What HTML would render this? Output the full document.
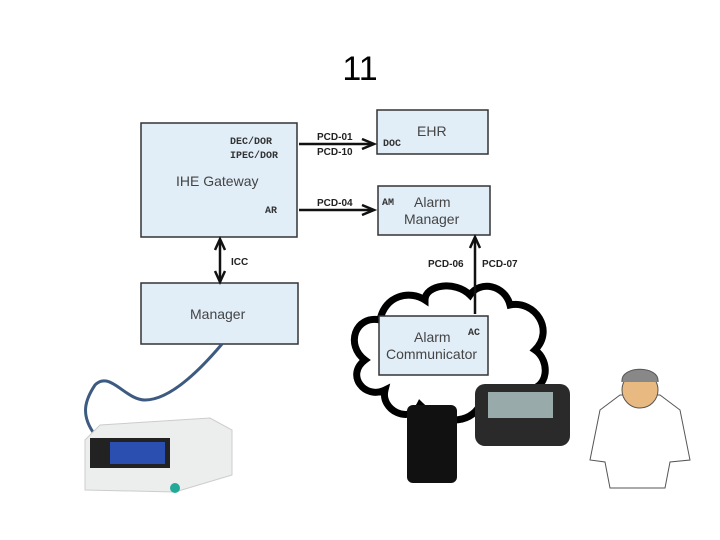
<!DOCTYPE html>
<html><head><style>
html,body{margin:0;padding:0;background:#fff;}
svg{display:block;font-family:"Liberation Sans",sans-serif;}
.m{font-family:"Liberation Mono",monospace;font-weight:bold;font-size:10px;fill:#333}
.b{font-weight:bold;font-size:10px;fill:#222}
.l{font-size:14px;fill:#444}
</style></head><body>
<svg width="720" height="540" viewBox="0 0 720 540">
<text x="360" y="80" text-anchor="middle" font-size="34" fill="#000">11</text>
<!-- cloud -->
<path d="M380,320 C355,315 345,345 365,360 C345,375 365,400 385,390 C380,410 410,425 420,405 C440,425 470,425 480,405 C500,420 530,410 525,390 C550,390 550,360 535,350 C555,330 535,300 510,305 C505,285 480,280 470,295 C455,280 425,285 425,300 C410,290 385,295 380,320 Z" fill="#fff" stroke="#000" stroke-width="7"/>
<!-- boxes -->
<g fill="#e1eef8" stroke="#333" stroke-width="1.5">
<rect x="141" y="123" width="156" height="114"/>
<rect x="377" y="110" width="111" height="44"/>
<rect x="378" y="186" width="112" height="49"/>
<rect x="141" y="283" width="157" height="61"/>
<rect x="379" y="316" width="109" height="59"/>
</g>
<text class="m" x="230" y="144">DEC/DOR</text>
<text class="m" x="230" y="158">IPEC/DOR</text>
<text class="l" x="176" y="186">IHE Gateway</text>
<text class="m" x="265" y="213">AR</text>
<text class="l" x="417" y="136">EHR</text>
<text class="m" x="383" y="146">DOC</text>
<text class="m" x="382" y="205">AM</text>
<text class="l" x="414" y="207">Alarm</text>
<text class="l" x="404" y="224">Manager</text>
<text class="l" x="190" y="319">Manager</text>
<text class="l" x="414" y="342">Alarm</text>
<text class="l" x="386" y="359">Communicator</text>
<text class="m" x="468" y="335">AC</text>
<!-- connectors -->
<g stroke="#111" stroke-width="2.5" fill="none">
<line x1="299" y1="144" x2="373" y2="144"/><polyline points="362,139 374,144 362,149"/>
<line x1="299" y1="210" x2="373" y2="210"/><polyline points="362,205 374,210 362,215"/>
<line x1="220" y1="240" x2="220" y2="281"/><polyline points="215,250 220,239 225,250"/><polyline points="215,271 220,282 225,271"/>
<line x1="475" y1="238" x2="475" y2="314"/><polyline points="470,248 475,237 480,248"/>
</g>
<text class="b" x="317" y="140">PCD-01</text>
<text class="b" x="317" y="155">PCD-10</text>
<text class="b" x="317" y="206">PCD-04</text>
<text class="b" x="231" y="265">ICC</text>
<text class="b" x="428" y="267">PCD-06</text>
<text class="b" x="482" y="267">PCD-07</text>
<!-- cable -->
<path d="M222,344 C200,370 170,400 145,400 C125,400 110,370 95,385 C85,400 80,415 95,435" stroke="#3d5a80" stroke-width="3" fill="none"/>
<!-- monitor -->
<path d="M85,440 L100,425 L210,418 L232,430 L232,475 L175,492 L85,490 Z" fill="#eceeee" stroke="#ccc"/>
<rect x="90" y="438" width="80" height="30" fill="#222"/>
<rect x="110" y="442" width="55" height="22" fill="#2a4fb0"/>
<circle cx="175" cy="488" r="5" fill="#2a9"/>
<!-- phone -->
<rect x="407" y="405" width="50" height="78" rx="6" fill="#111"/>
<!-- pager -->
<rect x="475" y="384" width="95" height="62" rx="10" fill="#2a2a2a"/>
<rect x="488" y="392" width="65" height="26" fill="#9aa"/>
<!-- doctor -->
<path d="M600,410 L620,395 L660,395 L680,410 L690,460 L670,462 L665,488 L610,488 L605,462 L590,460 Z" fill="#fff" stroke="#555"/>
<circle cx="640" cy="390" r="18" fill="#e8b980" stroke="#555"/>
<path d="M622,382 C620,365 660,365 658,382" fill="#888" stroke="#555"/>
</svg>
</body></html>
